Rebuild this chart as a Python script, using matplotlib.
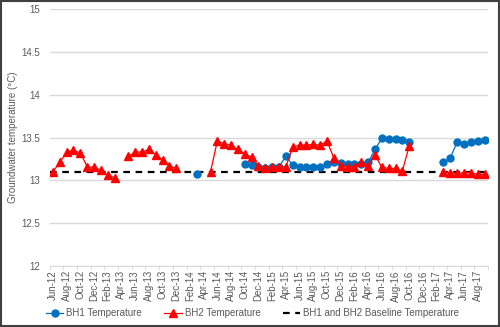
import numpy as np
import pandas as pd
import matplotlib
matplotlib.use("Agg")
import matplotlib.pyplot as plt
from matplotlib.patches import Rectangle

plt.rcParams['font.family'] = ['Liberation Sans', 'DejaVu Sans']

# monthly categories Jun-12 .. Sep-17
months = pd.date_range('2012-06-01', periods=64, freq='MS').strftime('%b-%y').tolist()

nan = np.nan
bh1 = [nan] * 21 + [13.07] + [nan] * 6 + [
    13.19, 13.18, 13.15, 13.14, 13.15, 13.16, 13.28, 13.18, 13.15, 13.15,
    13.15, 13.15, 13.19, 13.21, 13.20, 13.19, 13.19, 13.19, 13.21, 13.36,
    13.49, 13.48, 13.48, 13.475, 13.45,
] + [nan] * 4 + [13.21, 13.26, 13.45, 13.42, 13.45, 13.455, 13.47]

bh2 = [
    13.10, 13.21, 13.33, 13.35, 13.32, 13.16, 13.15, 13.12, 13.06, 13.03,
    nan,
    13.28, 13.33, 13.33, 13.36, 13.30, 13.24, 13.17, 13.14,
    nan, nan, nan, nan,
    13.10, 13.46, 13.43, 13.41, 13.36, 13.31, 13.27, 13.17, 13.14, 13.16,
    13.16, 13.16, 13.39, 13.41, 13.41, 13.42, 13.41, 13.46, 13.26, 13.17,
    13.16, 13.16, 13.21, 13.17, 13.30, 13.15, 13.14, 13.14, 13.11, 13.40,
    nan, nan, nan, nan,
    13.10, 13.09, 13.08, 13.09, 13.09, 13.07, 13.07,
]
baseline = 13.1

x = np.arange(len(months))
grey = '#595959'

fig = plt.figure(figsize=(5.0, 3.27), dpi=100)
ax = fig.add_axes([0.099, 0.1865, 0.877, 0.786])

ax.plot(x, np.array(bh1, dtype=float), color='#0070C0', lw=0.9, marker='o',
        markersize=5, label='BH1 Temperature', zorder=3)
ax.plot(x, np.array(bh2, dtype=float), color='#FF0000', lw=0.9, marker='^',
        markersize=5.5, label='BH2 Temperature', zorder=4)
ax.plot([x[0] - 0.5, x[-1] + 0.5], [baseline, baseline], color='black', lw=1.6,
        ls=(0, (3, 2.5)), label='BH1 and BH2 Baseline Temperature', zorder=2)

ax.set_xlim(-0.5, len(months) - 0.5)
ax.set_ylim(12, 15)
ax.set_yticks(np.arange(12, 15.01, 0.5))
ax.set_yticklabels(['12', '12.5', '13', '13.5', '14', '14.5', '15'])
ax.grid(axis='y', color='#d9d9d9', lw=1)
ax.set_axisbelow(True)

ax.set_xticks(x[::2])
ax.set_xticklabels(months[::2], rotation=90)
ax.set_xticks(np.arange(-0.5, len(months), 2), minor=True)
ax.tick_params(axis='x', which='major', length=0, pad=3, labelsize=7, labelcolor=grey)
ax.tick_params(axis='x', which='minor', length=3, color='#d9d9d9')
ax.tick_params(axis='y', length=0, pad=7, labelsize=7, labelcolor=grey)

for side in ['top', 'right', 'left']:
    ax.spines[side].set_visible(False)
ax.spines['bottom'].set_color('#d9d9d9')

ax.set_ylabel('Groundwater temperature (°C)', fontsize=7, color=grey)
ax.yaxis.set_label_coords(-0.072, 0.5)

fig.legend(loc='center', bbox_to_anchor=(0.505, 0.042), ncol=3, frameon=False,
           fontsize=7, labelcolor=grey, handlelength=1.8, handletextpad=0.3,
           columnspacing=2.3)

# dark frame round the chart
fig.patches.append(Rectangle((0.001, 0.002), 0.997, 0.995, transform=fig.transFigure,
                             fill=False, edgecolor='#404040', lw=1.5))

fig.savefig('out.png', dpi=100)
